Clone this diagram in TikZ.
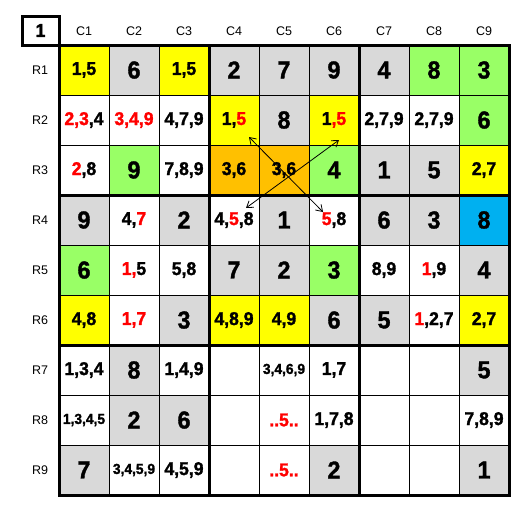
\documentclass[tikz,border=0pt]{standalone}
\usepackage{fontspec}
\setmainfont{Liberation Sans}
\newfontfamily\numfont[FakeStretch=0.95,BoldFeatures={FakeBold=1.5}]{Liberation Sans}
\usetikzlibrary{arrows.meta}
\newcommand{\rd}[1]{\textcolor{red}{#1}}
\definecolor{cyel}{RGB}{255,255,0}
\definecolor{cgry}{RGB}{217,217,217}
\definecolor{cgrn}{RGB}{153,255,102}
\definecolor{corg}{RGB}{255,192,0}
\definecolor{cblu}{RGB}{0,176,240}
\begin{document}
\begin{tikzpicture}[x=1pt,y=-1pt,
 cell/.style={draw=black,line width=1pt,minimum size=50pt,inner sep=0pt,outer sep=0pt,anchor=center,font=\numfont\bfseries\fontsize{18.5}{18.5}\selectfont},
 W/.style={cell,fill=white},
 Y/.style={cell,fill=cyel},
 S/.style={cell,fill=cgry},
 N/.style={cell,fill=cgrn},
 O/.style={cell,fill=corg},
 B/.style={cell,fill=cblu},
 big/.style={font=\numfont\bfseries\fontsize{24.5}{24.5}\selectfont},
 sml/.style={font=\numfont\bfseries\fontsize{14.5}{14.5}\selectfont},
 lab/.style={font=\fontsize{12.5}{12.5}\selectfont},
 heavy/.style={line width=3pt},
 arr/.style={line width=0.8pt,{Straight Barb[length=6pt,width=8pt]}-{Straight Barb[length=6pt,width=8pt]}}
]
\useasboundingbox (0,0) rectangle (532,512);
% column and row labels
\foreach \j in {1,...,9}{
  \node[lab] (h\j) at ({84+50*(\j-1)},31) {C\j};
  \node[lab] (r\j) at (40,{70+50*(\j-1)}) {R\j};
}
% row 1
\node[Y] (c11) at (84,70) {1,5};
\node[S,big] (c12) at (134,70) {6};
\node[Y] (c13) at (184,70) {1,5};
\node[S,big] (c14) at (234,70) {2};
\node[S,big] (c15) at (284,70) {7};
\node[S,big] (c16) at (334,70) {9};
\node[S,big] (c17) at (384,70) {4};
\node[N,big] (c18) at (434,70) {8};
\node[N,big] (c19) at (484,70) {3};
% row 2
\node[W] (c21) at (84,120) {\rd{2,3},4};
\node[W] (c22) at (134,120) {\rd{3,4,9}};
\node[W] (c23) at (184,120) {4,7,9};
\node[Y] (c24) at (234,120) {1,\rd{5}};
\node[S,big] (c25) at (284,120) {8};
\node[Y] (c26) at (334,120) {1\rd{,5}};
\node[W] (c27) at (384,120) {2,7,9};
\node[W] (c28) at (434,120) {2,7,9};
\node[N,big] (c29) at (484,120) {6};
% row 3
\node[W] (c31) at (84,170) {\rd{2},8};
\node[N,big] (c32) at (134,170) {9};
\node[W] (c33) at (184,170) {7,8,9};
\node[O] (c34) at (234,170) {3,6};
\node[O] (c35) at (284,170) {3,6};
\node[N,big] (c36) at (334,170) {4};
\node[S,big] (c37) at (384,170) {1};
\node[S,big] (c38) at (434,170) {5};
\node[Y] (c39) at (484,170) {2,7};
% row 4
\node[S,big] (c41) at (84,220) {9};
\node[W] (c42) at (134,220) {4,\rd{7}};
\node[S,big] (c43) at (184,220) {2};
\node[W] (c44) at (234,220) {4,\rd{5},8};
\node[S,big] (c45) at (284,220) {1};
\node[W] (c46) at (334,220) {\rd{5},8};
\node[S,big] (c47) at (384,220) {6};
\node[S,big] (c48) at (434,220) {3};
\node[B,big] (c49) at (484,220) {8};
% row 5
\node[N,big] (c51) at (84,270) {6};
\node[W] (c52) at (134,270) {\rd{1,}5};
\node[W] (c53) at (184,270) {5,8};
\node[S,big] (c54) at (234,270) {7};
\node[S,big] (c55) at (284,270) {2};
\node[N,big] (c56) at (334,270) {3};
\node[W] (c57) at (384,270) {8,9};
\node[W] (c58) at (434,270) {\rd{1},9};
\node[S,big] (c59) at (484,270) {4};
% row 6
\node[Y] (c61) at (84,320) {4,8};
\node[W] (c62) at (134,320) {\rd{1,7}};
\node[S,big] (c63) at (184,320) {3};
\node[Y] (c64) at (234,320) {4,8,9};
\node[Y] (c65) at (284,320) {4,9};
\node[S,big] (c66) at (334,320) {6};
\node[S,big] (c67) at (384,320) {5};
\node[W] (c68) at (434,320) {\rd{1},2,7};
\node[Y] (c69) at (484,320) {2,7};
% row 7
\node[W] (c71) at (84,370) {1,3,4};
\node[S,big] (c72) at (134,370) {8};
\node[W] (c73) at (184,370) {1,4,9};
\node[W] (c74) at (234,370) {};
\node[W,sml] (c75) at (284,370) {3,4,6,9};
\node[W] (c76) at (334,370) {1,7};
\node[W] (c77) at (384,370) {};
\node[W] (c78) at (434,370) {};
\node[S,big] (c79) at (484,370) {5};
% row 8
\node[W,sml] (c81) at (84,420) {1,3,4,5};
\node[S,big] (c82) at (134,420) {2};
\node[S,big] (c83) at (184,420) {6};
\node[W] (c84) at (234,420) {};
\node[W] (c85) at (284,420) {\rd{..5..}};
\node[W] (c86) at (334,420) {1,7,8};
\node[W] (c87) at (384,420) {};
\node[W] (c88) at (434,420) {};
\node[W] (c89) at (484,420) {7,8,9};
% row 9
\node[S,big] (c91) at (84,470) {7};
\node[W,sml] (c92) at (134,470) {3,4,5,9};
\node[W] (c93) at (184,470) {4,5,9};
\node[W] (c94) at (234,470) {};
\node[W] (c95) at (284,470) {\rd{..5..}};
\node[S,big] (c96) at (334,470) {2};
\node[W] (c97) at (384,470) {};
\node[W] (c98) at (434,470) {};
\node[S,big] (c99) at (484,470) {1};
% box boundaries
\draw[heavy] (c11.north west) rectangle (c99.south east);
\draw[heavy] (c14.north west) -- (c94.south west);
\draw[heavy] (c17.north west) -- (c97.south west);
\draw[heavy] (c41.north west) -- (c49.north east);
\draw[heavy] (c71.north west) -- (c79.north east);
% corner box
\node[draw,heavy,minimum width=37pt,minimum height=29pt,inner sep=0pt,outer sep=0pt,anchor=south east,font=\numfont\bfseries\fontsize{18.5}{18.5}\selectfont] (box) at (c11.north west) {1};
% arrows
\coordinate (a1) at (249,137);
\coordinate (a2) at (323,212);
\coordinate (b1) at (246,208);
\coordinate (b2) at (339,140);
\draw[arr] (a1) -- (a2);
\draw[arr] (b1) -- (b2);
\end{tikzpicture}
\end{document}
